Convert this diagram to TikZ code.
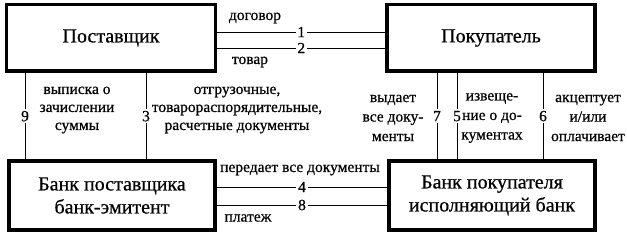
\documentclass[tikz,border=0pt]{standalone}
\usepackage{fontspec}
\setmainfont{Liberation Serif}[FakeBold=0.6]
\begin{document}
\begin{tikzpicture}[x=1pt,y=-1pt,
  box/.style={draw,line width=3.5pt,inner sep=0pt,align=center,
    font=\fontsize{20}{23}\selectfont},
  lbl/.style={inner sep=0pt,align=center,font=\fontsize{15.5}{18}\selectfont},
  num/.style={fill=white,inner sep=1.8pt,font=\fontsize{15.5}{16}\selectfont},
  conn/.style={line width=0.9pt},
  thin/.style={line width=0.7pt}]
\useasboundingbox (0,0) rectangle (627,235);
\node[box,minimum width=209pt,minimum height=66.5pt] (b1) at (111,38) {Поставщик};
\node[box,minimum width=208pt,minimum height=66.5pt] (b2) at (491,38) {Покупатель};
\node[box,minimum width=206pt,minimum height=69pt] (b3) at (112,195.5) {Банк поставщика\\банк-эмитент};
\node[box,minimum width=206pt,minimum height=69pt] (b4) at (492,195.5) {Банк покупателя\\исполняющий банк};
% helper coordinates
\coordinate (h1) at (0,32);
\coordinate (h2) at (0,48);
\coordinate (h4) at (0,187);
\coordinate (h8) at (0,205);
\coordinate (v9) at (25,0);
\coordinate (v3) at (146,0);
\coordinate (v7) at (437,0);
\coordinate (v5) at (457,0);
\coordinate (v6) at (543,0);
% horizontal connectors
\draw[conn] (b1.east |- h1) -- node[num] (n1) {1} (b2.west |- h1);
\draw[conn] (b1.east |- h2) -- node[num] (n2) {2} (b2.west |- h2);
\draw[conn] (b3.east |- h4) -- node[num] (n4) {4} (b4.west |- h4);
\draw[conn] (b3.east |- h8) -- node[num] (n8) {8} (b4.west |- h8);
% vertical connectors
\draw[conn] (b1.south -| v9) -- node[num,inner xsep=0.5pt] (n9) {9} (b3.north -| v9);
\draw[conn] (b1.south -| v3) -- node[num,inner xsep=0.5pt] (n3) {3} (b3.north -| v3);
\draw[thin] (b2.south -| v7) -- node[num,inner xsep=0.5pt] (n7) {7} (b4.north -| v7);
\draw[thin] (b2.south -| v5) -- node[num,inner xsep=0.5pt] (n5) {5} (b4.north -| v5);
\draw[thin] (b2.south -| v6) -- node[num,inner xsep=0.5pt] (n6) {6} (b4.north -| v6);
% labels
\node[lbl] (t1) at (255,18) {договор};
\node[lbl] (t2) at (250,62) {товар};
\node[lbl] (t4) at (300,170) {передает все документы};
\node[lbl] (t8) at (248,218) {платеж};
\node[lbl] (t9) at (77,110) {выписка о\\зачислении\\суммы};
\node[lbl] (t3) at (237,110) {отгрузочные,\\товарораспорядительные,\\расчетные документы};
\node[lbl,font=\fontsize{15.5}{19.5}\selectfont] (t7) at (393,118) {выдает\\все доку-\\менты};
\node[lbl,font=\fontsize{15.5}{19.5}\selectfont] (t5) at (492,118) {извеще-\\ние о до-\\кументах};
\node[lbl,font=\fontsize{15.5}{19.5}\selectfont] (t6) at (588,118) {акцептует\\и/или\\оплачивает};
\end{tikzpicture}
\end{document}
